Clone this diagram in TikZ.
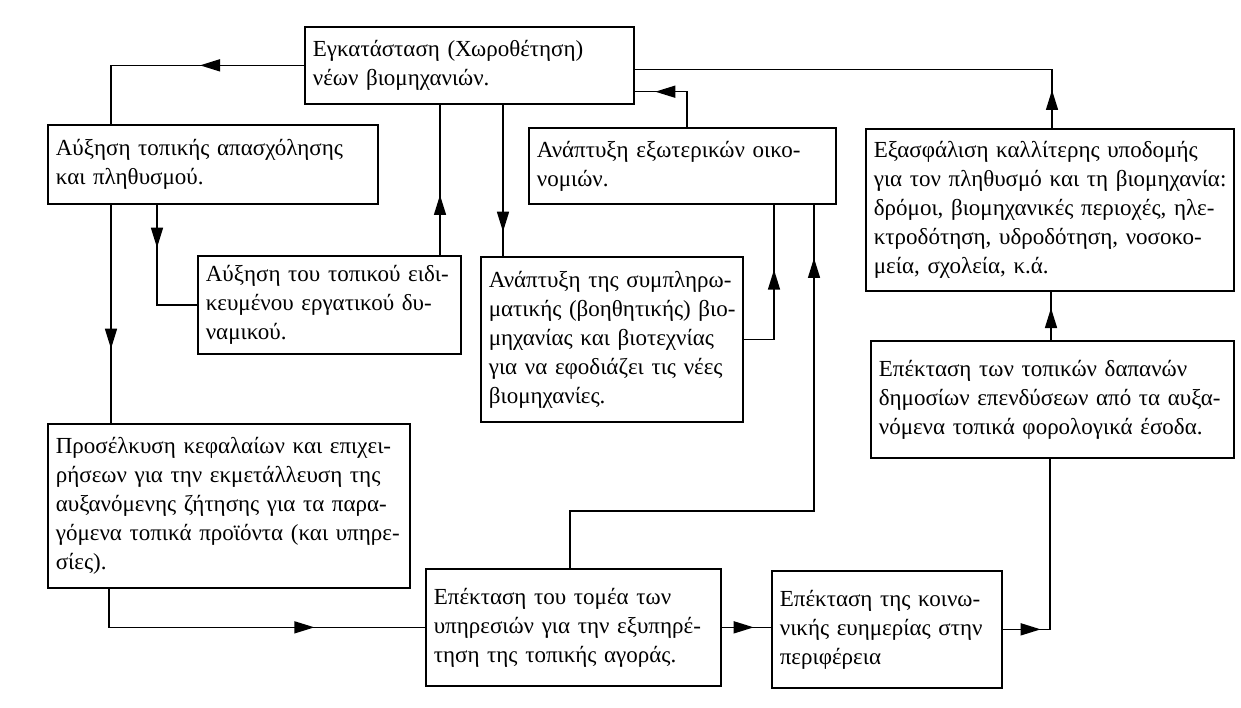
\documentclass[tikz,border=0pt]{standalone}
\usepackage{fontspec}
\setmainfont{Liberation Serif}
\usetikzlibrary{arrows.meta,decorations.markings,calc}
\newcommand{\rows}[1]{\begin{tabular}{@{}l@{}}#1\end{tabular}}
\tikzset{
  box/.style={draw, line width=1.7pt, anchor=north west, align=left,
    inner xsep=8pt, inner ysep=0pt, font=\fontsize{23}{29}\selectfont},
  conn/.style={line width=1.5pt},
  tipat/.style={postaction={decorate}, decoration={markings,
    mark=at position #1 with {\arrow{Triangle[length=20pt,width=12pt]}}}}
}
\begin{document}
\begin{tikzpicture}[x=1pt,y=-1pt]
\useasboundingbox[fill=white] (0,0) rectangle (1241,708);

\node[box, text width=313pt, minimum height=77pt] (A) at (304,26)
  {\rows{Εγκατάσταση (Χωροθέτηση)\\νέων βιομηχανιών.}};
\node[box, text width=314pt, minimum height=79pt] (B) at (47,124)
  {\rows{Αύξηση τοπικής απασχόλησης\\και πληθυσμού.}};
\node[box, text width=247pt, minimum height=98pt] (C) at (197,255)
  {\rows{Αύξηση του τοπικού ειδι-\\κευμένου εργατικού δυ-\\ναμικού.}};
\node[box, text width=346pt, minimum height=164pt] (D) at (47,423)
  {\rows{Προσέλκυση κεφαλαίων και επιχει-\\ρήσεων για την εκμετάλλευση της\\αυξανόμενης ζήτησης για τα παρα-\\γόμενα τοπικά προϊόντα (και υπηρε-\\σίες).}};
\node[box, text width=291pt, minimum height=76pt] (E) at (528,127)
  {\rows{Ανάπτυξη εξωτερικών οικο-\\νομιών.}};
\node[box, text width=246pt, minimum height=165pt] (G) at (480,256)
  {\rows{Ανάπτυξη της συμπληρω-\\ματικής (βοηθητικής) βιο-\\μηχανίας και βιοτεχνίας\\για να εφοδιάζει τις νέες\\βιομηχανίες.}};
\node[box, text width=352pt, minimum height=162pt] (F) at (865,128)
  {\rows{Εξασφάλιση καλλίτερης υποδομής\\για τον πληθυσμό και τη βιομηχανία:\\δρόμοι, βιομηχανικές περιοχές, ηλε-\\κτροδότηση, υδροδότηση, νοσοκο-\\μεία, σχολεία, κ.ά.}};
\node[box, text width=347pt, minimum height=117pt] (I) at (870,340)
  {\rows{Επέκταση των τοπικών δαπανών\\δημοσίων επενδύσεων από τα αυξα-\\νόμενα τοπικά φορολογικά έσοδα.}};
\node[box, text width=279pt, minimum height=117pt] (H) at (425,568)
  {\rows{Επέκταση του τομέα των\\υπηρεσιών για την εξυπηρέ-\\τηση της τοπικής αγοράς.}};
\node[box, text width=214pt, minimum height=117pt] (J) at (771,570)
  {\rows{Επέκταση της κοινω-\\νικής ευημερίας στην\\περιφέρεια}};

\draw[conn, tipat=104pt] (A.west) -| ([xshift=64pt]B.north west);
\draw[conn, tipat=43pt] ([xshift=110pt]B.south west) |- (C.west);
\draw[conn, tipat=144pt] ([xshift=64pt]B.south west) -- ([xshift=64pt]D.north west);
\draw[conn, tipat=60pt] ([xshift=243pt]C.north west) -- ([xshift=136pt]A.south west);
\draw[conn, tipat=127pt] ([xshift=199pt]A.south west) -- ([xshift=23pt]G.north west);
\draw[conn, tipat=100pt] (G.east) -| ([xshift=246pt]E.south west);
\draw[conn, tipat=554pt] ([xshift=145pt]H.north west) -- ++(0,-57) -| ([xshift=286pt]E.south west);
\draw[conn, tipat=67pt] ([xshift=159pt]E.north west) |- ([yshift=13pt]A.south east);
\draw[conn, tipat=38pt] ([xshift=187pt]F.north west) |- ([yshift=-4pt]A.east);
\draw[conn, tipat=244pt] ([xshift=62pt]D.south west) |- (H.west);
\draw[conn, tipat=32pt] (H.east) -- (H.east -| J.west);
\draw[conn, tipat=38pt] (J.east) -| ([xshift=180pt]I.south west);
\draw[conn, tipat=32pt] ([xshift=181pt]I.north west) -- ([xshift=186pt]F.south west);
\end{tikzpicture}
\end{document}
